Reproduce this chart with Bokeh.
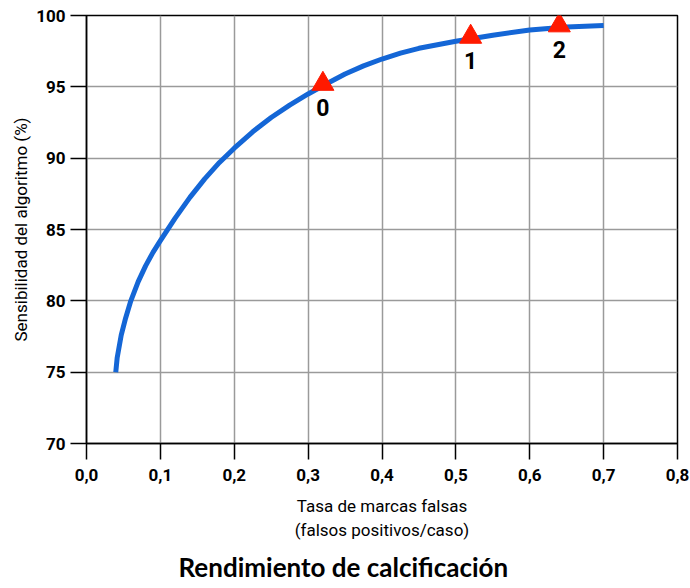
from bokeh.plotting import figure
from bokeh.models import Range1d, FixedTicker, CustomJSTickFormatter, Label
from bokeh.embed import file_html
from bokeh.resources import INLINE

# Curve data
curve_x = [0.0396, 0.0415, 0.047, 0.053, 0.060, 0.070, 0.080, 0.090, 0.100, 0.120,
           0.140, 0.160, 0.180, 0.200, 0.225, 0.250, 0.275, 0.300, 0.325, 0.350,
           0.375, 0.400, 0.425, 0.450, 0.500, 0.550, 0.600, 0.650, 0.700]
curve_y = [75.0, 76.0, 77.6, 78.8, 80.0, 81.35, 82.45, 83.4, 84.22, 85.8,
           87.25, 88.55, 89.7, 90.7, 91.85, 92.85, 93.72, 94.5, 95.22, 95.9,
           96.47, 96.95, 97.36, 97.7, 98.2, 98.62, 98.98, 99.2, 99.3]

# Marked operating points
pt_x = [0.32, 0.52, 0.64]
pt_y = [95.2, 98.5, 99.3]
pt_labels = ["0", "1", "2"]

x_ticks = [0.0, 0.1, 0.2, 0.3, 0.4, 0.5, 0.6, 0.7, 0.8]
y_ticks = [70, 75, 80, 85, 90, 95, 100]

x_title = "Tasa de marcas falsas\n(falsos positivos/caso)"
y_title = "Sensibilidad del algoritmo (%)"
chart_title = "Rendimiento de calcificación"

FONT = "Roboto"

p = figure(width=690, height=588, output_backend="svg", toolbar_location=None,
           x_range=Range1d(0, 0.8), y_range=Range1d(70, 100),
           title=chart_title, title_location="below")
p.min_border_left = 86
p.min_border_right = 13
p.min_border_top = 15
p.min_border_bottom = 143
p.outline_line_color = "black"
p.outline_line_width = 1.5
p.background_fill_color = "white"
p.border_fill_color = "white"

p.title.align = "left"
p.title.offset = 92
p.title.text_font = "Lato"
p.title.text_font_style = "bold"
p.title.text_font_size = "26px"
p.title.text_color = "black"
p.title.standoff = 12

for ax in (p.xaxis[0], p.yaxis[0]):
    ax.axis_line_color = "black"
    ax.axis_line_width = 1.5
    ax.major_tick_out = 16
    ax.major_tick_in = 0
    ax.major_tick_line_width = 1.5
    ax.minor_tick_line_color = None
    ax.major_label_text_font = FONT
    ax.major_label_text_font_style = "bold"
    ax.major_label_text_font_size = "17px"
    ax.major_label_text_color = "black"
    ax.axis_label_text_font = FONT
    ax.axis_label_text_font_style = "normal"
    ax.axis_label_text_font_size = "17px"
    ax.axis_label_text_color = "black"

p.xaxis[0].ticker = FixedTicker(ticks=x_ticks)
p.yaxis[0].ticker = FixedTicker(ticks=y_ticks)
p.xaxis[0].formatter = CustomJSTickFormatter(code="return tick.toFixed(1).replace('.', ',');")
p.yaxis[0].formatter = CustomJSTickFormatter(code="return tick.toFixed(0);")
p.xaxis[0].major_label_standoff = 9
p.yaxis[0].major_label_standoff = 5
p.xaxis[0].axis_label = x_title
p.yaxis[0].axis_label = y_title
p.xaxis[0].axis_label_standoff = 12
p.yaxis[0].axis_label_standoff = 2

p.grid.grid_line_color = "#9a9a9a"
p.grid.grid_line_width = 1.5
p.xgrid.ticker = FixedTicker(ticks=x_ticks)
p.ygrid.ticker = FixedTicker(ticks=y_ticks)

p.line(curve_x, curve_y, line_color="#1466d6", line_width=5, line_cap="butt", line_join="round")
p.scatter(pt_x, pt_y, marker="triangle", size=22, fill_color="#ff1a00", line_color="#ff1a00")

for xv, yv, t in zip(pt_x, pt_y, pt_labels):
    p.add_layout(Label(x=xv, y=yv, text=t, x_offset=0, y_offset=-24,
                       text_align="center", text_baseline="middle",
                       text_font=FONT, text_font_style="bold",
                       text_font_size="23px", text_color="black"))

open("out.html", "w").write(file_html(p, INLINE))
